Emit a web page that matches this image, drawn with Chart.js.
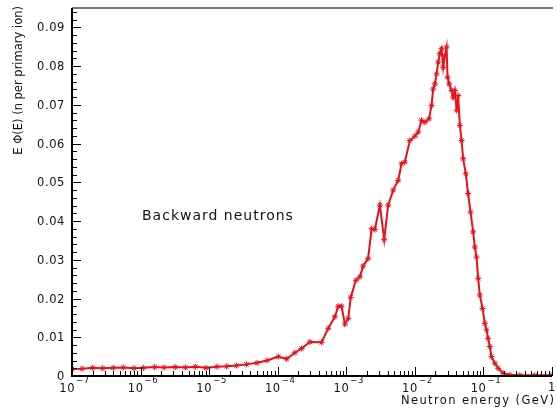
<!DOCTYPE html>
<html lang="en">
<head>
    <meta charset="UTF-8">
    <title>Backward neutrons</title>
    <script src="https://cdn.jsdelivr.net/npm/chart.js"></script>
    <style>
        html, body { margin: 0; padding: 0; background: #fff; }
        #chart { display: block; }
    </style>
</head>
<body>
    <canvas id="chart" width="557" height="408"></canvas>
    <script>
        // neutron energy (GeV) and E*phi(E)
        const energy = [
            1.0e-7, 1.4e-7, 2.0e-7, 2.8e-7, 4.0e-7, 5.6e-7, 8.0e-7,
            1.1e-6, 1.6e-6, 2.2e-6, 3.2e-6, 4.5e-6, 6.3e-6, 9.0e-6,
            1.3e-5, 1.8e-5, 2.5e-5, 3.5e-5, 5.0e-5, 7.0e-5,
            1.02e-4, 1.35e-4, 1.78e-4, 2.23e-4, 2.94e-4, 4.37e-4, 5.45e-4, 6.82e-4, 7.62e-4, 8.53e-4, 9.55e-4,
            1.07e-3, 1.16e-3, 1.38e-3, 1.58e-3, 1.76e-3, 2.08e-3, 2.34e-3, 2.61e-3, 3.09e-3, 3.57e-3,
            4.08e-3, 4.83e-3, 5.71e-3, 6.40e-3, 7.14e-3, 8.45e-3,
            1.0e-2, 1.12e-2, 1.25e-2, 1.40e-2, 1.61e-2, 1.75e-2, 1.85e-2, 1.96e-2, 2.07e-2, 2.19e-2,
            2.31e-2, 2.45e-2, 2.59e-2, 2.74e-2, 2.90e-2, 3.00e-2, 3.16e-2, 3.43e-2, 3.61e-2, 3.83e-2,
            4.06e-2, 4.28e-2, 4.53e-2, 4.80e-2, 5.06e-2, 5.53e-2, 5.98e-2, 6.49e-2, 7.08e-2, 7.50e-2,
            7.93e-2, 8.38e-2, 8.87e-2, 9.70e-2,
            0.105, 0.111, 0.117, 0.124, 0.131, 0.147, 0.164, 0.194, 0.243, 0.34, 0.56, 1.0
        ];
        const flux = [
            0.0018, 0.0019, 0.0021, 0.0020, 0.0021, 0.0022, 0.0020,
            0.0021, 0.0023, 0.0022, 0.0023, 0.0022, 0.0024, 0.0021,
            0.0024, 0.0025, 0.0027, 0.0030, 0.0034, 0.0040,
            0.0050, 0.0044, 0.0060, 0.0071, 0.0088, 0.0087, 0.0123, 0.0153, 0.0180, 0.0180, 0.0134,
            0.0149, 0.0203, 0.0247, 0.0256, 0.0284, 0.0303, 0.0380, 0.0378, 0.0441, 0.0352,
            0.0441, 0.0480, 0.0505, 0.0548, 0.0552, 0.0608,
            0.0619, 0.0630, 0.0660, 0.0655, 0.0664, 0.0698, 0.0741, 0.0754, 0.0780, 0.0810,
            0.0832, 0.0845, 0.0797, 0.0827, 0.0849, 0.0771, 0.0754, 0.0737, 0.0720, 0.0737,
            0.0686, 0.0724, 0.0647, 0.0608, 0.0561, 0.0522, 0.0471, 0.0423, 0.0372, 0.0333,
            0.0307, 0.0252, 0.0209, 0.0174,
            0.0136, 0.0119, 0.0097, 0.0076, 0.0050, 0.0033, 0.0020, 0.0007, 0.0003, 0.0002, 0.0002, 0.0002
        ];

        // axis ticks
        const yTicks = [0, 0.01, 0.02, 0.03, 0.04, 0.05, 0.06, 0.07, 0.08, 0.09];
        const yTickLabels = ['0', '0.01', '0.02', '0.03', '0.04', '0.05', '0.06', '0.07', '0.08', '0.09'];
        const xDecades = [1e-7, 1e-6, 1e-5, 1e-4, 1e-3, 1e-2, 1e-1, 1];
        const xExponents = ['\u22127', '\u22126', '\u22125', '\u22124', '\u22123', '\u22122', '\u22121', ''];

        const FONT = '"DejaVu Sans", sans-serif';

        // ROOT-like frame: ticks inside the frame, exponent labels, titles
        const framePlugin = {
            id: 'frame',
            afterDraw(chart) {
                const ctx = chart.ctx;
                const a = chart.chartArea;
                const xs = chart.scales.x;
                const ys = chart.scales.y;
                ctx.save();

                // top border
                ctx.strokeStyle = '#777';
                ctx.lineWidth = 2;
                ctx.beginPath();
                ctx.moveTo(a.left, a.top);
                ctx.lineTo(a.right + 1, a.top);
                ctx.stroke();

                // axis lines
                ctx.strokeStyle = '#000';
                ctx.lineWidth = 2;
                ctx.beginPath();
                ctx.moveTo(a.left, a.top);
                ctx.lineTo(a.left, a.bottom);
                ctx.lineTo(a.right, a.bottom);
                ctx.stroke();

                ctx.lineWidth = 1;
                ctx.beginPath();
                // y ticks, major + minor
                for (let v = 0; v <= 0.0951; v += 0.002) {
                    const py = Math.round(ys.getPixelForValue(v)) + 0.5;
                    const major = Math.abs(v / 0.01 - Math.round(v / 0.01)) < 1e-6;
                    ctx.moveTo(a.left, py);
                    ctx.lineTo(a.left + (major ? 9 : 5), py);
                }
                // x ticks, decades + 2..9
                xDecades.forEach((d, i) => {
                    let px = Math.round(xs.getPixelForValue(d)) + 0.5;
                    ctx.moveTo(px, a.bottom);
                    ctx.lineTo(px, a.bottom - 9);
                    if (i < xDecades.length - 1) {
                        for (let m = 2; m <= 9; m++) {
                            px = Math.round(xs.getPixelForValue(d * m)) + 0.5;
                            ctx.moveTo(px, a.bottom);
                            ctx.lineTo(px, a.bottom - 5);
                        }
                    }
                });
                ctx.stroke();

                // y tick labels
                ctx.fillStyle = '#111';
                ctx.font = '11.5px ' + FONT;
                ctx.letterSpacing = '0.6px';
                ctx.textAlign = 'right';
                ctx.textBaseline = 'middle';
                yTicks.forEach((v, i) => {
                    ctx.fillText(yTickLabels[i], a.left - 7, ys.getPixelForValue(v) + 1);
                });

                // x tick labels: 10 with superscript exponent
                xDecades.forEach((d, i) => {
                    const px = xs.getPixelForValue(d);
                    if (!xExponents[i]) {
                        ctx.font = '11.5px ' + FONT;
                        ctx.textAlign = 'center';
                        ctx.fillText('1', px, 388);
                        return;
                    }
                    ctx.font = '11.5px ' + FONT;
                    const wBase = ctx.measureText('10').width;
                    ctx.font = '8.5px ' + FONT;
                    const wExp = ctx.measureText(xExponents[i]).width;
                    const x0 = px + 2 - (wBase + wExp) / 2;
                    ctx.textAlign = 'left';
                    ctx.font = '11.5px ' + FONT;
                    ctx.fillText('10', x0, 389);
                    ctx.font = '8.5px ' + FONT;
                    ctx.fillText(xExponents[i], x0 + wBase + 1, 381);
                });

                // axis titles
                ctx.font = '11.5px ' + FONT;
                ctx.letterSpacing = '1.4px';
                ctx.textAlign = 'left';
                ctx.textBaseline = 'alphabetic';
                const tw = ctx.measureText('Neutron energy (GeV)').width;
                ctx.fillText('Neutron energy (GeV)', 554 - tw + 1.4, 404);

                ctx.save();
                ctx.letterSpacing = '0px';
                ctx.translate(19, 6);
                ctx.rotate(-Math.PI / 2);
                ctx.textAlign = 'right';
                ctx.textBaseline = 'middle';
                ctx.fillText('E \u03A6(E) (n per primary ion)', 0, 0);
                ctx.restore();

                // label inside the frame
                ctx.font = '14px ' + FONT;
                ctx.letterSpacing = '1px';
                ctx.textAlign = 'left';
                ctx.textBaseline = 'middle';
                ctx.fillText('Backward neutrons', 142, 216);

                ctx.restore();
            }
        };

        const points = energy.map((e, i) => ({ x: e, y: flux[i] }));

        new Chart(document.getElementById('chart').getContext('2d'), {
            type: 'line',
            data: {
                datasets: [{
                    data: points,
                    borderColor: '#e8101a',
                    backgroundColor: '#e8101a',
                    borderWidth: 2,
                    pointStyle: 'star',
                    pointRadius: 3,
                    pointBorderWidth: 1,
                    tension: 0,
                    fill: false
                }]
            },
            options: {
                responsive: false,
                animation: false,
                devicePixelRatio: 1,
                layout: { padding: { left: 72, right: 5, top: 8, bottom: 32 } },
                plugins: {
                    legend: { display: false },
                    tooltip: { enabled: false }
                },
                scales: {
                    x: { type: 'logarithmic', min: 1e-7, max: 1, display: false },
                    y: { type: 'linear', min: 0, max: 0.095, display: false }
                }
            },
            plugins: [framePlugin]
        });
    </script>
</body>
</html>
